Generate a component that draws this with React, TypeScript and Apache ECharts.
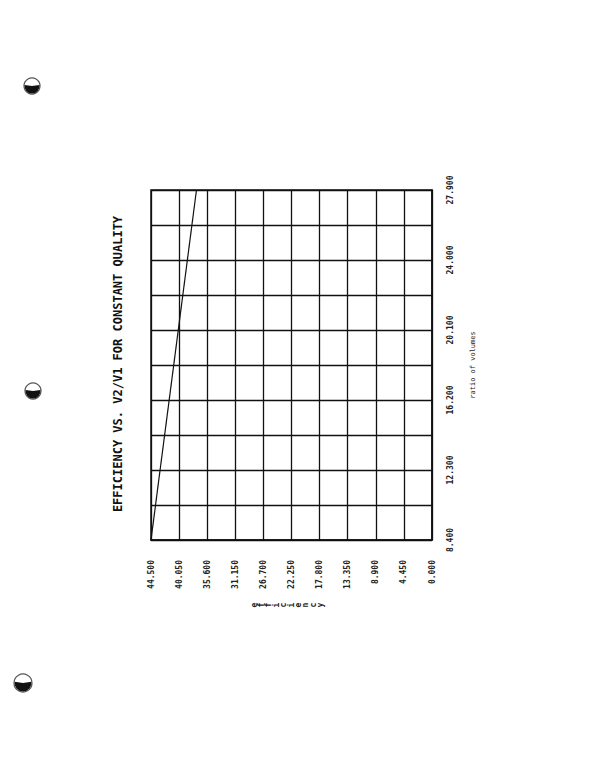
import React, { useEffect, useRef } from "react";
import * as echarts from "echarts";

// Data (original orientation: x = ratio of volumes, y = efficiency)
const ratio = [8.4, 27.9];
const efficiency = [44.5, 37.3];

// Tick values
const efficiencyTicks = [0, 4.45, 8.9, 13.35, 17.8, 22.25, 26.7, 31.15, 35.6, 40.05, 44.5];
const ratioLabelTicks = [8.4, 12.3, 16.2, 20.1, 24.0, 27.9];
const ratioGridTicks = [8.4, 10.35, 12.3, 14.25, 16.2, 18.15, 20.1, 22.05, 24.0, 25.95, 27.9];

const titleText = "EFFICIENCY VS. V2/V1 FOR CONSTANT QUALITY";
const ratioName = "ratio of volumes";
const efficiencyName = "efficiency";

const MONO = "'DejaVu Sans Mono', 'Liberation Mono', monospace";

function holePunch(cx: number, cy: number, r: number) {
  return {
    type: "group",
    children: [
      {
        type: "circle",
        shape: { cx, cy, r },
        style: { fill: "#fff", stroke: "#555", lineWidth: 1.2 },
      },
      {
        type: "sector",
        shape: { cx, cy, r: r - 0.5, startAngle: -0.15, endAngle: Math.PI + 0.15 },
        style: { fill: "#111" },
      },
    ],
  };
}

export default function App() {
  const ref = useRef<HTMLDivElement>(null);

  useEffect(() => {
    if (!ref.current) return;
    const chart = echarts.init(ref.current, null, { renderer: "svg" });

    const letters = efficiencyName.split("").map((ch, i) => ({
      type: "text",
      x: 254 + i * 7.4,
      y: 605,
      rotation: Math.PI / 2,
      style: {
        text: ch,
        fontFamily: MONO,
        fontSize: 8,
        fontWeight: "bold",
        fill: "#222",
        align: "center",
        verticalAlign: "middle",
      },
    }));

    chart.setOption({
      animation: false,
      backgroundColor: "#ffffff",
      grid: {
        left: 151,
        right: 180,
        top: 190,
        bottom: 239,
        show: true,
        borderColor: "#111",
        borderWidth: 1.5,
      },
      xAxis: {
        type: "value",
        inverse: true,
        position: "bottom",
        min: 0,
        max: 44.5,
        axisLine: { show: true, lineStyle: { color: "#111", width: 1.5 } },
        axisTick: { show: false, customValues: efficiencyTicks },
        splitLine: { show: true, lineStyle: { color: "#111", width: 1.3 } },
        axisLabel: {
          customValues: efficiencyTicks,
          rotate: 90,
          margin: 20,
          fontFamily: MONO,
          fontSize: 8,
          fontWeight: "bold",
          color: "#222",
          formatter: (v: number) => v.toFixed(3),
        },
      },
      yAxis: {
        type: "value",
        position: "right",
        min: 8.4,
        max: 27.9,
        name: ratioName,
        nameLocation: "middle",
        nameRotate: 90,
        nameGap: 37,
        nameTextStyle: { fontFamily: MONO, fontSize: 7, color: "#222" },
        axisLine: { show: true, lineStyle: { color: "#111", width: 1.5 } },
        axisTick: { show: false, customValues: ratioGridTicks },
        splitLine: { show: true, lineStyle: { color: "#111", width: 1.3 } },
        axisLabel: {
          customValues: ratioLabelTicks,
          rotate: 90,
          margin: 14,
          fontFamily: MONO,
          fontSize: 8,
          fontWeight: "bold",
          color: "#222",
          formatter: (v: number) => v.toFixed(3),
        },
      },
      series: [
        {
          type: "line",
          data: ratio.map((r, i) => [efficiency[i], r]),
          symbol: "none",
          lineStyle: { color: "#111", width: 1.2 },
        },
      ],
      graphic: [
        {
          type: "text",
          x: 118,
          y: 364,
          rotation: Math.PI / 2,
          style: {
            text: titleText,
            fontFamily: MONO,
            fontSize: 12,
            fontWeight: "bold",
            fill: "#111",
            align: "center",
            verticalAlign: "middle",
          },
        },
        { type: "group", children: letters },
        holePunch(32, 86, 8),
        holePunch(33, 391, 8),
        holePunch(23, 683, 9),
      ],
    });

    return () => chart.dispose();
  }, []);

  return (
    <div
      ref={ref}
      style={{ position: "fixed", left: 0, top: 0, width: 612, height: 779, background: "#fff" }}
    />
  );
}
